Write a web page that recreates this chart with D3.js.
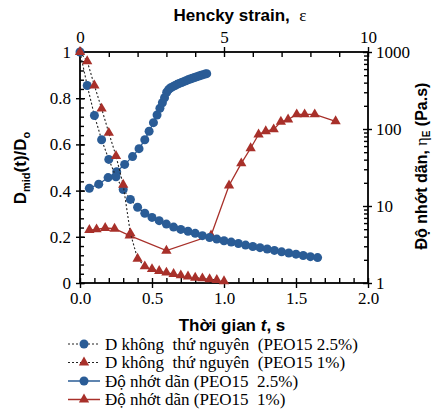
<!DOCTYPE html>
<html><head><meta charset="utf-8">
<script src="https://cdn.jsdelivr.net/npm/d3@7"></script>
<style>
html,body{margin:0;padding:0;background:#fff;}
svg{display:block;}
text{white-space:pre;}
</style></head>
<body>
<svg id="c" width="433" height="411"></svg>
<script>
// ---------- data ----------
const timeD25 = [0,0.05,0.1,0.15,0.2,0.25,0.3,0.35,0.4,0.45,0.5,0.55,0.6,0.65,0.7,0.75,0.8,0.85,0.9,0.95,1.0,1.05,1.1,1.15,1.2,1.25,1.3,1.35,1.4,1.45,1.5,1.55,1.6,1.65];
const dimD25 = [1.0,0.855,0.725,0.62,0.535,0.46,0.405,0.362,0.328,0.302,0.284,0.27,0.255,0.242,0.232,0.224,0.215,0.205,0.197,0.19,0.183,0.177,0.171,0.164,0.158,0.153,0.147,0.141,0.135,0.13,0.125,0.119,0.114,0.11];

const timeD1 = [0,0.05,0.1,0.15,0.2,0.25,0.3,0.35,0.4,0.45,0.5,0.55,0.6,0.65,0.7,0.75,0.8,0.85,0.9,0.95,1.0];
const dimD1 = [1.0,0.96,0.855,0.755,0.65,0.55,0.425,0.215,0.105,0.072,0.06,0.052,0.045,0.039,0.033,0.028,0.023,0.02,0.016,0.013,0.008];

const timeEta25 = [0.065,0.13,0.195,0.255,0.31,0.365,0.41,0.45,0.48,0.51,0.535,0.555,0.572,0.587,0.602,0.615,0.63,0.645,0.66,0.675,0.69,0.705,0.72,0.735,0.75,0.765,0.78,0.795,0.81,0.825,0.84,0.855,0.87,0.88];
const eta25 = [17.0,19.2,23.4,27.9,34.7,43.8,55.6,72.4,93.5,121,152,186,219,255,300,325,343,355,367,380,391,402,412,423,435,446,456,466,477,487,498,508,519,523];

const timeEta1 = [0.065,0.115,0.175,0.24,0.345,0.6,0.91,1.035,1.12,1.185,1.24,1.29,1.345,1.395,1.445,1.505,1.56,1.63,1.775];
const eta1 = [4.87,4.97,5.18,5.07,4.13,2.63,4.13,18.5,35.8,56.2,84.9,93.6,99,124,133,155,155,155,126];

const xTicks = [0,0.5,1.0,1.5,2.0];
const yTicks = [0,0.2,0.4,0.6,0.8,1];
const rTicks = [1,10,100,1000];
const topTicks = [0,5,10];

const legendLabels = [
  "D không  thứ nguyên  (PEO15 2.5%)",
  "D không  thứ nguyên  (PEO15 1%)",
  "Độ nhớt dãn (PEO15  2.5%)",
  "Độ nhớt dãn (PEO15  1%)"
];

// ---------- setup ----------
const BLUE = "#2a5c96", RED = "#a8302a";
const L = 80, R = 368, T = 52, B = 283;
const svg = d3.select("#c");
const x = d3.scaleLinear().domain([0,2]).range([L,R]);
const xTop = d3.scaleLinear().domain([0,10]).range([L,R]);
const yL = d3.scaleLinear().domain([0,1]).range([B,T]);
const yR = d3.scaleLog().domain([1,1000]).range([B,T]);
const serif = "Liberation Serif, Times New Roman, DejaVu Serif, serif";
const sans = "Liberation Sans, Arial, sans-serif";

function styleAxis(g){
  g.attr("font-family",serif);
  g.select(".domain").remove();
  g.selectAll("line").attr("stroke","#000").attr("stroke-width",1.4);
  g.selectAll("text").attr("font-family",serif).attr("font-size",17).attr("fill","#000");
}

// minor ticks
const xMinor = d3.range(0,2.0001,0.1);
const yMinor = d3.range(0,1.0001,0.04);
const rMinor = [];
[1,10,100].forEach(d=>{for(let k=2;k<=9;k++) rMinor.push(d*k);});
const topMinor = d3.range(0,10.0001,1);

// bottom
svg.append("g").attr("transform",`translate(0,${B})`)
  .call(d3.axisBottom(x).tickValues(xMinor).tickSize(-5).tickFormat(""))
  .call(styleAxis);
svg.append("g").attr("transform",`translate(0,${B})`)
  .call(d3.axisBottom(x).tickValues(xTicks).tickSize(5).tickPadding(4).tickFormat(d3.format(".1f")))
  .call(styleAxis);

// top
svg.append("g").attr("transform",`translate(0,${T})`)
  .call(d3.axisTop(xTop).tickValues(topMinor).tickSize(-5).tickFormat(""))
  .call(styleAxis);
svg.append("g").attr("transform",`translate(0,${T})`)
  .call(d3.axisTop(xTop).tickValues(topTicks).tickSize(5).tickPadding(4).tickFormat(d3.format("d")))
  .call(styleAxis);

// left
svg.append("g").attr("transform",`translate(${L},0)`)
  .call(d3.axisLeft(yL).tickValues(yMinor).tickSize(-4).tickFormat(""))
  .call(styleAxis);
svg.append("g").attr("transform",`translate(${L},0)`)
  .call(d3.axisLeft(yL).tickValues(yTicks).tickSize(-5).tickFormat(""))
  .call(styleAxis);
svg.append("g").attr("transform",`translate(${L},0)`)
  .call(d3.axisLeft(yL).tickValues(yTicks).tickSize(4).tickPadding(5).tickFormat(d=>String(+d.toFixed(1))))
  .call(styleAxis);

// right
svg.append("g").attr("transform",`translate(${R},0)`)
  .call(d3.axisRight(yR).tickValues(rMinor).tickSize(-4).tickFormat(""))
  .call(styleAxis);
svg.append("g").attr("transform",`translate(${R},0)`)
  .call(d3.axisRight(yR).tickValues(rTicks).tickSize(-5).tickFormat(""))
  .call(styleAxis);
svg.append("g").attr("transform",`translate(${R},0)`)
  .call(d3.axisRight(yR).tickValues(rTicks).tickSize(4).tickPadding(4).tickFormat(d3.format("d")))
  .call(styleAxis);

// frame
svg.append("rect").attr("x",L).attr("y",T).attr("width",R-L).attr("height",B-T)
  .attr("fill","none").attr("stroke","#000").attr("stroke-width",1.8);

// ---------- series ----------
const tri = d3.symbol().type(d3.symbolTriangle).size(46);
function drawSeries(ts, vs, yScale, color, dashed, marker){
  const pts = ts.map((t,i)=>[x(t), yScale(vs[i])]);
  svg.append("path").attr("d", d3.line()(pts)).attr("fill","none")
    .attr("stroke", dashed ? "#222" : color).attr("stroke-width", dashed?1.1:1.3)
    .attr("stroke-dasharray", dashed ? "2,2" : null);
  const g = svg.append("g");
  pts.forEach(p=>{
    if(marker==="circle") g.append("circle").attr("cx",p[0]).attr("cy",p[1]).attr("r",4.5).attr("fill",color);
    else g.append("path").attr("d",tri).attr("transform",`translate(${p[0]},${p[1]})`).attr("fill",color);
  });
}
drawSeries(timeEta25, eta25, yR, BLUE, false, "circle");
drawSeries(timeEta1, eta1, yR, RED, false, "tri");
drawSeries(timeD25, dimD25, yL, BLUE, true, "circle");
drawSeries(timeD1, dimD1, yL, RED, true, "tri");

// ---------- titles ----------
const topTitle = svg.append("text").attr("x",240).attr("y",21).attr("text-anchor","middle")
  .attr("font-family",sans).attr("font-weight","bold").attr("font-size",17);
topTitle.append("tspan").text("Hencky strain,  ");
topTitle.append("tspan").attr("font-family",serif).attr("font-weight","normal").text("ε");

const botTitle = svg.append("text").attr("x",232).attr("y",331).attr("text-anchor","middle")
  .attr("font-family",sans).attr("font-weight","bold").attr("font-size",17);
botTitle.append("tspan").text("Thời gian ");
botTitle.append("tspan").attr("font-style","italic").text("t");
botTitle.append("tspan").text(", s");

const leftTitle = svg.append("text").attr("transform","translate(26,168) rotate(-90)").attr("text-anchor","middle")
  .attr("font-family",sans).attr("font-weight","bold").attr("font-size",17);
leftTitle.append("tspan").text("D");
leftTitle.append("tspan").attr("font-size",11).attr("dy",4).text("mid");
leftTitle.append("tspan").attr("dy",-4).text("(t)/D");
leftTitle.append("tspan").attr("font-size",11).attr("dy",4).text("o");

const rightTitle = svg.append("text").attr("transform","translate(427,166) rotate(-90)").attr("text-anchor","middle")
  .attr("font-family",sans).attr("font-weight","bold").attr("font-size",16);
rightTitle.append("tspan").text("Độ nhớt dãn, ");
rightTitle.append("tspan").attr("font-family",serif).attr("font-weight","normal").text("η");
rightTitle.append("tspan").attr("font-size",10).attr("dy",3).text("E");
rightTitle.append("tspan").attr("dy",-3).text(" (Pa.s)");

// ---------- legend ----------
const legY = [344,362.5,381,399.5];
const legColor = [BLUE,RED,BLUE,RED];
const legDash = [true,true,false,false];
const legMarker = ["circle","tri","circle","tri"];
legendLabels.forEach((lab,i)=>{
  const y = legY[i];
  svg.append("line").attr("x1",68).attr("x2",100).attr("y1",y).attr("y2",y)
    .attr("stroke", legDash[i] ? "#222" : legColor[i]).attr("stroke-width", legDash[i]?1.1:1.5)
    .attr("stroke-dasharray", legDash[i] ? "2,2" : null);
  if(legMarker[i]==="circle") svg.append("circle").attr("cx",84).attr("cy",y).attr("r",4.5).attr("fill",legColor[i]);
  else svg.append("path").attr("d",tri).attr("transform",`translate(84,${y})`).attr("fill",legColor[i]);
  svg.append("text").attr("x",105).attr("y",y+5.5).attr("font-family",serif).attr("font-size",17)
    .attr("fill","#000").text(lab);
});
</script>
</body></html>
